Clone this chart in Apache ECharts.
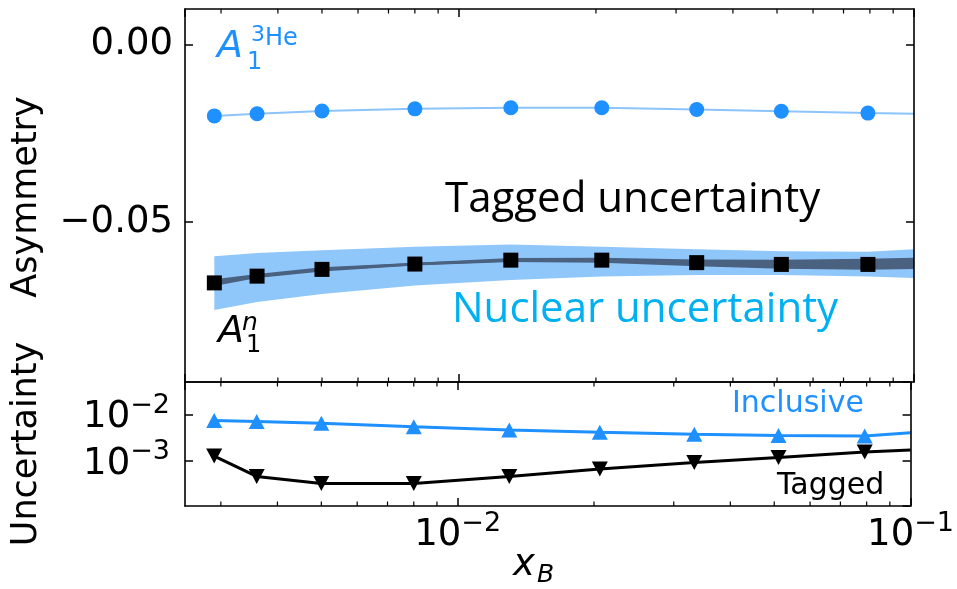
<!DOCTYPE html>
<html><head><meta charset="utf-8">
<script src="https://cdn.jsdelivr.net/npm/echarts@6/dist/echarts.min.js"></script>
<style>html,body{margin:0;padding:0;background:#fff}#c{width:957px;height:589px}</style>
</head><body><div id="c"></div>
<script>
// ---------- data ----------
const xB = [0.0029, 0.0036, 0.0050, 0.0080, 0.0130, 0.0206, 0.0333, 0.0511, 0.0792];
const xBand = [0.0029, 0.0036, 0.0050, 0.0080, 0.0130, 0.0206, 0.0333, 0.0511, 0.0792, 0.1];
const A1He3 = [-0.0201, -0.0195, -0.0187, -0.0181, -0.0178, -0.0178, -0.0183, -0.0188, -0.0193];
const A1He3Curve = [-0.0201, -0.0195, -0.0187, -0.0181, -0.0178, -0.0178, -0.0183, -0.0188, -0.0193, -0.0195];
const A1n = [-0.0671, -0.0652, -0.0633, -0.0618, -0.0607, -0.0607, -0.0614, -0.0619, -0.0619];
const taggedBandHigh = [-0.0661, -0.0646, -0.0627, -0.0614, -0.0601, -0.0600, -0.0605, -0.0606, -0.0603, -0.0600];
const taggedBandLow  = [-0.0680, -0.0657, -0.0639, -0.0622, -0.0612, -0.0614, -0.0624, -0.0631, -0.0634, -0.0632];
const nuclearBandHigh = [-0.0596, -0.0587, -0.0579, -0.0569, -0.0563, -0.0569, -0.0576, -0.0582, -0.0583, -0.0576];
const nuclearBandLow  = [-0.0747, -0.0725, -0.0702, -0.0678, -0.0663, -0.0653, -0.0649, -0.0649, -0.0653, -0.0657];
const inclusiveUnc = [0.0074, 0.0070, 0.0064, 0.0054, 0.0046, 0.0041, 0.0037, 0.0035, 0.0034];
const inclusiveCurve = [0.0074, 0.0070, 0.0064, 0.0054, 0.0046, 0.0041, 0.0037, 0.0035, 0.0034, 0.0040];
const taggedUnc = [0.00126, 0.000456, 0.000322, 0.000322, 0.000453, 0.000662, 0.000914, 0.00117, 0.00154];
const taggedCurve = [0.00126, 0.000456, 0.000322, 0.000322, 0.000453, 0.000662, 0.000914, 0.00117, 0.00154, 0.0017];
const asymTicks = [-0.05, 0.00];
const xMinorTicks = [0.003, 0.004, 0.005, 0.006, 0.007, 0.008, 0.009, 0.02, 0.03, 0.04, 0.05, 0.06, 0.07, 0.08, 0.09];

// ---------- styles ----------
const FONT = 'DejaVu Sans';
const BLUE = '#1e90ff';
const pairs = (xs, ys) => xs.map((x, i) => [x, ys[i]]);

function logLabel(v) {
  const e = Math.round(Math.log10(v));
  return '{b|10}{s|' + (e < 0 ? '\u2212' : '') + Math.abs(e) + '}';
}
const logRich = {
  b: {fontSize: 37, fontFamily: FONT, color: '#000', lineHeight: 44, verticalAlign: 'bottom'},
  s: {fontSize: 27, fontFamily: FONT, color: '#000', lineHeight: 24, verticalAlign: 'top'}
};
const axisLineStyle = {show: true, onZero: false, lineStyle: {color: '#000', width: 1.6}};
const tickStyle = {show: true, inside: true, length: 8, lineStyle: {color: '#000', width: 1.5}};

function xAx(grid, pos, labels) {
  return {
    type: 'log', logBase: 10, gridIndex: grid, position: pos, min: 0.0025, max: 0.1, z: 10,
    axisLine: axisLineStyle, axisTick: tickStyle, splitLine: {show: false}, minorTick: {show: false},
    axisLabel: labels ? {show: true, formatter: logLabel, rich: logRich, margin: 4, showMinLabel: false, showMaxLabel: true, hideOverlap: false}
                      : {show: false}
  };
}

function band(xs, lo, hi, color, z) {
  return {
    type: 'custom', xAxisIndex: 0, yAxisIndex: 0, z: z, silent: true,
    data: xs.map((x, i) => [x, lo[i], hi[i]]),
    encode: {x: 0, y: [1, 2]},
    renderItem: (params, api) => {
      if (params.dataIndex !== 0) return null;
      const pts = [];
      for (let i = 0; i < xs.length; i++) pts.push(api.coord([xs[i], hi[i]]));
      for (let i = xs.length - 1; i >= 0; i--) pts.push(api.coord([xs[i], lo[i]]));
      return {type: 'polygon', shape: {points: pts}, style: {fill: color}};
    }
  };
}

function minorTicks(xi, yi, yref) {
  return {
    type: 'custom', xAxisIndex: xi, yAxisIndex: yi, z: 11, silent: true,
    data: xMinorTicks.map(v => [v, yref]),
    renderItem: (params, api) => {
      const x = api.coord([api.value(0), api.value(1)])[0];
      const cs = params.coordSys;
      const st = {stroke: '#000', lineWidth: 1.2};
      return {type: 'group', children: [
        {type: 'line', shape: {x1: x, y1: cs.y, x2: x, y2: cs.y + 4.5}, style: st},
        {type: 'line', shape: {x1: x, y1: cs.y + cs.height, x2: x, y2: cs.y + cs.height - 4.5}, style: st}
      ]};
    }
  };
}

function txt(x, y, text, font, fill) {
  return {type: 'text', x: x, y: y, style: {text: text, font: font, fill: fill, align: 'left', verticalAlign: 'middle', textAlign: 'left', textVerticalAlign: 'middle'}};
}

const chart = echarts.init(document.getElementById('c'), null, {renderer: 'canvas'});
chart.setOption({
  animation: false,
  backgroundColor: '#fff',
  grid: [
    {left: 185, right: 43, top: 9, height: 373},
    {left: 185, right: 43, top: 382, height: 124}
  ],
  xAxis: [xAx(0, 'bottom', false), xAx(0, 'top', false), xAx(1, 'bottom', true), xAx(1, 'top', false)],
  yAxis: [
    {type: 'value', gridIndex: 0, position: 'left', min: -0.095, max: 0.01, z: 10,
     axisLine: axisLineStyle, axisTick: Object.assign({}, tickStyle, {customValues: asymTicks}),
     splitLine: {show: false},
     axisLabel: {customValues: asymTicks, margin: 12, fontSize: 37, fontFamily: FONT, color: '#000',
       formatter: v => (v < 0 ? '\u2212' : '') + Math.abs(v).toFixed(2)}},
    {type: 'value', gridIndex: 0, position: 'right', min: -0.095, max: 0.01, z: 10,
     axisLine: axisLineStyle, axisTick: Object.assign({}, tickStyle, {customValues: asymTicks}),
     splitLine: {show: false}, axisLabel: {show: false}},
    {type: 'log', logBase: 10, gridIndex: 1, position: 'left', min: 1.05e-4, max: 0.05, z: 10,
     axisLine: axisLineStyle, axisTick: tickStyle, splitLine: {show: false}, minorTick: {show: false},
     axisLabel: {formatter: logLabel, rich: logRich, margin: 15, showMinLabel: false, showMaxLabel: false}},
    {type: 'log', logBase: 10, gridIndex: 1, position: 'right', min: 1.05e-4, max: 0.05, z: 10,
     axisLine: axisLineStyle, axisTick: tickStyle, splitLine: {show: false}, minorTick: {show: false},
     axisLabel: {show: false}}
  ],
  series: [
    band(xBand, nuclearBandLow, nuclearBandHigh, '#8fc7fb', 1),
    band(xBand, taggedBandLow, taggedBandHigh, '#4a6180', 2),
    {type: 'line', xAxisIndex: 0, yAxisIndex: 0, z: 3, data: pairs(xBand, A1He3Curve), showSymbol: false,
     lineStyle: {color: '#8cc4fb', width: 2}, silent: true},
    {type: 'scatter', xAxisIndex: 0, yAxisIndex: 0, z: 4, data: pairs(xB, A1He3), symbol: 'circle', symbolSize: 15,
     itemStyle: {color: BLUE, opacity: 1}, silent: true},
    {type: 'line', xAxisIndex: 0, yAxisIndex: 0, z: 3, data: pairs(xB, A1n), showSymbol: false,
     lineStyle: {color: '#4a6180', width: 2.5}, silent: true},
    {type: 'scatter', xAxisIndex: 0, yAxisIndex: 0, z: 4, data: pairs(xB, A1n), symbol: 'rect', symbolSize: 15,
     itemStyle: {color: '#000', opacity: 1}, silent: true},
    {type: 'line', xAxisIndex: 2, yAxisIndex: 2, z: 3, data: pairs(xBand, inclusiveCurve), showSymbol: false,
     lineStyle: {color: BLUE, width: 3}, silent: true},
    {type: 'scatter', xAxisIndex: 2, yAxisIndex: 2, z: 4, data: pairs(xB, inclusiveUnc), symbol: 'triangle', symbolSize: [16, 15],
     itemStyle: {color: BLUE, opacity: 1}, silent: true},
    {type: 'line', xAxisIndex: 2, yAxisIndex: 2, z: 3, data: pairs(xBand, taggedCurve), showSymbol: false,
     lineStyle: {color: '#000', width: 3}, silent: true},
    {type: 'scatter', xAxisIndex: 2, yAxisIndex: 2, z: 4, data: pairs(xB, taggedUnc), symbol: 'triangle', symbolRotate: 180, symbolSize: [16, 15],
     itemStyle: {color: '#000', opacity: 1}, silent: true},
    minorTicks(0, 0, -0.05),
    minorTicks(2, 2, 0.001)
  ],
  graphic: [
    {type: 'text', x: 27, y: 197, rotation: Math.PI / 2, style: {text: 'Asymmetry', font: '35px "DejaVu Sans"', fill: '#000', align: 'center', verticalAlign: 'middle', textAlign: 'center', textVerticalAlign: 'middle'}},
    {type: 'text', x: 27, y: 444, rotation: Math.PI / 2, style: {text: 'Uncertainty', font: '35px "DejaVu Sans"', fill: '#000', align: 'center', verticalAlign: 'middle', textAlign: 'center', textVerticalAlign: 'middle'}},
    txt(513, 565, 'x', 'italic 37px "DejaVu Sans"', '#000'),
    txt(537, 575, 'B', 'italic 25px "DejaVu Sans"', '#000'),
    txt(445, 200, 'Tagged uncertainty', '42px "Open Sans"', '#000'),
    txt(452, 310, 'Nuclear uncertainty', '42px "Open Sans"', '#00b0f0'),
    txt(732, 404, 'Inclusive', '30px "DejaVu Sans"', BLUE),
    txt(777, 486, 'Tagged', '30px "DejaVu Sans"', '#000'),
    txt(217, 47, 'A', 'italic 38px "DejaVu Sans"', BLUE),
    txt(247, 63, '1', '24px "DejaVu Sans"', BLUE),
    txt(251, 35, '3', '22px "DejaVu Sans"', BLUE),
    txt(265, 39, 'He', '24px "DejaVu Sans"', BLUE),
    txt(218, 332, 'A', 'italic 38px "DejaVu Sans"', '#000'),
    txt(246, 346, '1', '24px "DejaVu Sans"', '#000'),
    txt(242, 323, 'n', 'italic 25px "DejaVu Sans"', '#000')
  ]
});
</script></body></html>
